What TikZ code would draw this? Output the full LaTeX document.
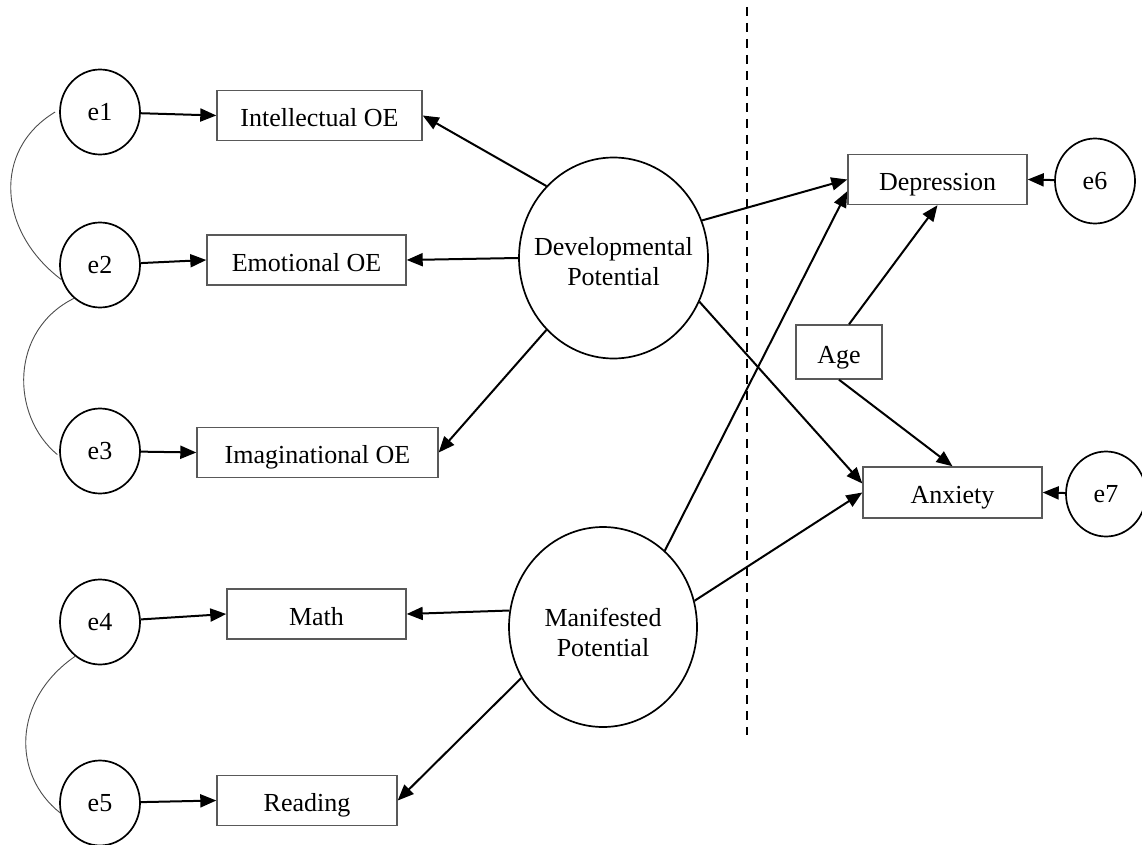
\documentclass[tikz,border=0pt]{standalone}
\usepackage{fontspec}
\setmainfont{Liberation Serif}
\usetikzlibrary{arrows.meta,shapes.geometric}
\begin{document}
\begin{tikzpicture}[x=1pt,y=-1pt,
  every node/.style={font=\fontsize{26}{30}\selectfont},
  errvar/.style={ellipse, draw=black, line width=1.7pt, minimum width=80pt, minimum height=85pt, inner sep=0pt},
  latent/.style={ellipse, draw=black, line width=1.7pt, inner sep=0pt},
  caption/.style={align=center, inner sep=0pt},
  obs/.style={rectangle, draw=black!65, line width=1.4pt, inner sep=0pt, minimum height=50pt, text height=22pt, text depth=0pt},
  effect/.style={-{Triangle[length=16pt,width=13pt]}, line width=2pt, black},
  cov/.style={line width=0.9pt, black!70},
  divider/.style={line width=2.2pt, dash pattern=on 9pt off 7pt}
]
\clip (0,0) rectangle (1142,845);

% group divider
\coordinate (dtop) at (747,7);
\coordinate (dbot) at (747,735);
\draw[divider] (dtop) -- (dbot);

% error terms
\node[errvar] (e1) at (100,112) {e1};
\node[errvar] (e2) at (100,265) {e2};
\node[errvar] (e3) at (100,451) {e3};
\node[errvar] (e4) at (100,622) {e4};
\node[errvar] (e5) at (100,803) {e5};
\node[errvar] (e6) at (1095,181) {e6};
\node[errvar] (e7) at (1106,494) {e7};

% observed variables
\node[obs, minimum width=205pt] (intel) at (319.5,115.5) {Intellectual OE};
\node[obs, minimum width=199pt] (emot) at (306.5,260) {Emotional OE};
\node[obs, minimum width=241pt] (imag) at (317.5,452.5) {Imaginational OE};
\node[obs, minimum width=179pt] (math) at (316.5,614) {Math};
\node[obs, minimum width=180pt] (read) at (307,800.5) {Reading};
\node[obs, minimum width=179pt] (depr) at (937.5,179.5) {Depression};
\node[obs, minimum width=179pt, minimum height=51pt] (anx) at (952.5,492.5) {Anxiety};
\node[obs, minimum width=86pt, minimum height=54pt] (age) at (839,352) {Age};

% latent variables
\node[latent, minimum width=189pt, minimum height=201pt] (dev) at (613.5,258) {};
\node[caption] (devtext) at (613.5,262) {Developmental\\Potential};
\node[latent, minimum width=188pt, minimum height=200pt] (man) at (603,627) {};
\node[caption] (mantext) at (603,632) {Manifested\\Potential};

% error paths
\draw[effect] (e1) -- (intel.west);
\draw[effect] (e2) -- (emot.west);
\draw[effect] (e3) -- (imag.west);
\draw[effect] (e4) -- (math.west);
\draw[effect] (e5) -- (read.west);
\draw[effect] (e6) -- (depr.east);
\draw[effect] (e7) -- (anx.east);

% loadings
\draw[effect] (dev.133) -- (intel.east);
\draw[effect] (dev.180) -- (emot.east);
\draw[effect] (dev.227) -- (imag.east);
\draw[effect] (man.170) -- (math.east);
\draw[effect] (man.212) -- (read.east);

% structural paths
\draw[effect] (dev.23) -- (depr.west);
\draw[effect] (dev.333) -- ([yshift=9pt]anx.west);
\draw[effect] (man.51) -- ([yshift=14pt]depr.south west);
\draw[effect] (man.16) -- (anx.west);
\draw[effect] ([xshift=10pt]age.north) -- (depr.south);
\draw[effect] (age.south) -- (anx.north);

% error covariances
\draw[cov] ([xshift=-4pt]e1.west) .. controls (-8,150) and (-2,232) .. (e2.201);
\draw[cov] (e2.232) .. controls (10,330) and (10,415) .. ([xshift=-2pt]e3.185);
\draw[cov] (e4.234) .. controls (12,700) and (12,775) .. (e5.194);
\end{tikzpicture}
\end{document}
